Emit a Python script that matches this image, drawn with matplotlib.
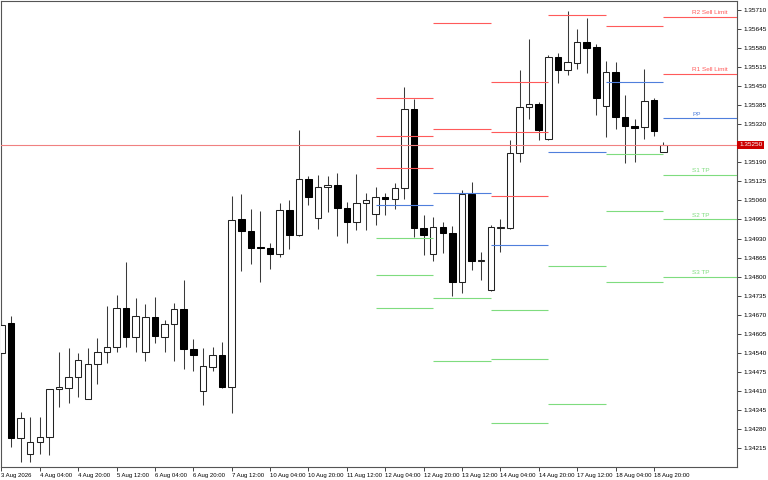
import numpy as np
import matplotlib
matplotlib.use('Agg')
import matplotlib.pyplot as plt
from matplotlib import font_manager

names = {f.name for f in font_manager.fontManager.ttflist}
if 'Liberation Sans Narrow' in names:
    plt.rcParams['font.family'] = ['Liberation Sans Narrow', 'DejaVu Sans']
    fs, fs_x = 5.5, 5.3
else:
    plt.rcParams['font.family'] = ['Liberation Sans', 'DejaVu Sans']
    fs, fs_x = 4.6, 4.3

# H4 bars from 3 Aug 12:00 to 19 Aug 00:00
opens = [1.34539, 1.34640, 1.34247, 1.34193, 1.34236, 1.34253, 1.34415, 1.34420, 1.34456, 1.34382,
         1.34502, 1.34541, 1.34558, 1.34691, 1.34592, 1.34541, 1.34663, 1.34594, 1.34637, 1.34688,
         1.34552, 1.34410, 1.34492, 1.34532, 1.34421, 1.34997, 1.34956, 1.34900, 1.34899, 1.34876,
         1.35027, 1.34943, 1.35132, 1.35000, 1.35105, 1.35112, 1.35033, 1.34985, 1.35051, 1.35013,
         1.35073, 1.35065, 1.35102, 1.35373, 1.34967, 1.34877, 1.34970, 1.34950, 1.34782, 1.35083,
         1.34854, 1.34754, 1.34967, 1.34967, 1.35221, 1.35378, 1.35389, 1.35271, 1.35549, 1.35506,
         1.35529, 1.35602, 1.35584, 1.35384, 1.35498, 1.35346, 1.35315, 1.35310, 1.35403, 1.35225]
highs = [1.34651, 1.34665, 1.34338, 1.34321, 1.34321, 1.34416, 1.34543, 1.34555, 1.34538, 1.34555,
         1.34591, 1.34700, 1.34737, 1.34850, 1.34727, 1.34705, 1.34730, 1.34651, 1.34711, 1.34788,
         1.34587, 1.34555, 1.34560, 1.34575, 1.35075, 1.35082, 1.35032, 1.35025, 1.34914, 1.35050,
         1.35062, 1.35301, 1.35144, 1.35148, 1.35145, 1.35155, 1.35056, 1.35151, 1.35087, 1.35107,
         1.35087, 1.35119, 1.35447, 1.35406, 1.35009, 1.35005, 1.34985, 1.34973, 1.35095, 1.35124,
         1.34884, 1.34975, 1.34996, 1.35267, 1.35506, 1.35612, 1.35397, 1.35557, 1.35565, 1.35709,
         1.35646, 1.35685, 1.35595, 1.35537, 1.35532, 1.35421, 1.35339, 1.35508, 1.35411, 1.35261]
lows = [1.34532, 1.34218, 1.34167, 1.34167, 1.34193, 1.34189, 1.34353, 1.34369, 1.34387, 1.34380,
        1.34432, 1.34503, 1.34541, 1.34560, 1.34543, 1.34511, 1.34574, 1.34541, 1.34512, 1.34484,
        1.34476, 1.34361, 1.34478, 1.34419, 1.34335, 1.34820, 1.34843, 1.34782, 1.34825, 1.34866,
        1.34895, 1.34940, 1.35045, 1.34964, 1.35022, 1.34938, 1.34914, 1.34959, 1.34958, 1.34975,
        1.35010, 1.35031, 1.35064, 1.34936, 1.34873, 1.34853, 1.34879, 1.34734, 1.34745, 1.34821,
        1.34788, 1.34752, 1.34883, 1.34963, 1.35191, 1.35337, 1.35267, 1.35268, 1.35461, 1.35488,
        1.35509, 1.35497, 1.35352, 1.35278, 1.35303, 1.35187, 1.35191, 1.35271, 1.35280, 1.35224]
closes = [1.34634, 1.34247, 1.34316, 1.34236, 1.34253, 1.34415, 1.34421, 1.34456, 1.34514, 1.34500,
          1.34541, 1.34558, 1.34691, 1.34594, 1.34666, 1.34663, 1.34597, 1.34637, 1.34688, 1.34552,
          1.34531, 1.34494, 1.34532, 1.34421, 1.34993, 1.34957, 1.34897, 1.34898, 1.34877, 1.35026,
          1.34942, 1.35132, 1.35072, 1.35105, 1.35112, 1.35035, 1.34985, 1.35050, 1.35062, 1.35073,
          1.35065, 1.35102, 1.35373, 1.34965, 1.34941, 1.34970, 1.34948, 1.34780, 1.35083, 1.34852,
          1.34856, 1.34970, 1.34968, 1.35221, 1.35378, 1.35389, 1.35301, 1.35549, 1.35506, 1.35534,
          1.35602, 1.35582, 1.35411, 1.35498, 1.35346, 1.35316, 1.35308, 1.35401, 1.35297, 1.35250]

x_label_bars = [0, 4, 8, 12, 16, 20, 24, 28, 32, 36, 40, 44, 48, 52, 56, 60, 64, 68]
x_labels = ['3 Aug 2026', '4 Aug 04:00', '4 Aug 20:00', '5 Aug 12:00', '6 Aug 04:00',
            '6 Aug 20:00', '7 Aug 12:00', '10 Aug 04:00', '10 Aug 20:00', '11 Aug 12:00',
            '12 Aug 04:00', '12 Aug 20:00', '13 Aug 12:00', '14 Aug 04:00', '14 Aug 20:00',
            '17 Aug 12:00', '18 Aug 04:00', '18 Aug 20:00']

y_ticks = [1.35710, 1.35645, 1.35580, 1.35515, 1.35450, 1.35385, 1.35320, 1.35190,
           1.35125, 1.35060, 1.34995, 1.34930, 1.34865, 1.34800, 1.34735, 1.34670,
           1.34605, 1.34540, 1.34475, 1.34410, 1.34345, 1.34280, 1.34215]

# daily pivot levels (bar index where each day starts)
day_start = [39, 45, 51, 57, 63, 69]
nan = np.nan
r3 = [1.35409, nan, 1.35465, nan, nan, nan]
r2 = [1.35281, 1.35666, 1.35293, nan, nan, 1.35688]
r1 = [1.35170, 1.35303, 1.35076, 1.35693, 1.35657, 1.35492]
pp = [1.35044, 1.35087, 1.34907, 1.35225, 1.35465, 1.35341]
s1 = [1.34931, 1.34726, 1.34687, 1.34835, 1.35220, 1.35147]
s2 = [1.34804, 1.34510, 1.34518, 1.34365, 1.35025, 1.34996]
s3 = [1.34693, nan, 1.34298, nan, 1.34780, 1.34800]

current_price = 1.35250

RED = '#ff5a5a'
BLUE = '#4f7fdc'
GREEN = '#7fdc7f'

fig = plt.figure(figsize=(7.68, 4.80), dpi=100)
ax = fig.add_axes([1 / 768, 13 / 480, 736 / 768, 466 / 480])

x = np.arange(len(opens))
o = np.array(opens)
c = np.array(closes)
ax.vlines(x, lows, highs, color='#3a3a3a', linewidth=0.75, zorder=2)
up = c >= o
ax.bar(x[up], np.maximum(c[up] - o[up], 0.000005), bottom=o[up], width=0.68,
       facecolor='white', edgecolor='#222222', linewidth=0.75, zorder=3)
ax.bar(x[~up], o[~up] - c[~up], bottom=c[~up], width=0.68,
       facecolor='black', edgecolor='black', linewidth=0.75, zorder=3)

xmax = 76.66
day_end = day_start[1:] + [xmax]
for levels, col in [(r3, RED), (r2, RED), (r1, RED), (pp, BLUE),
                    (s1, GREEN), (s2, GREEN), (s3, GREEN)]:
    ax.hlines(levels, day_start, day_end, color=col, linewidth=0.8, zorder=4)

# labels for today's levels
tags = [('R2 Sell Limit', r2[-1], RED), ('R1 Sell Limit', r1[-1], RED), ('PP', pp[-1], BLUE),
        ('S1 TP', s1[-1], GREEN), ('S2 TP', s2[-1], GREEN), ('S3 TP', s3[-1], GREEN)]
for txt, lv, col in tags:
    ax.annotate(txt, (72.0, lv), xytext=(0, 1.2), textcoords='offset points',
                ha='left', va='bottom', fontsize=fs, color=col, zorder=5)

ax.axhline(current_price, color='#f08080', linewidth=0.8, zorder=4)
ax.annotate('1.35250', (1, current_price), xycoords=('axes fraction', 'data'),
            xytext=(1.5, 0), textcoords='offset points', ha='left', va='center',
            fontsize=fs, color='white', annotation_clip=False,
            bbox=dict(boxstyle='square,pad=0.25', fc='#cc0000', ec='none'))

ax.set_xlim(-0.042, xmax)
ax.set_ylim(1.341490, 1.357418)

ax.yaxis.tick_right()
ax.set_yticks(y_ticks)
ax.set_yticklabels(['%.5f' % v for v in y_ticks])
ax.set_xticks(x_label_bars)
ax.set_xticklabels(x_labels, ha='left')
ax.tick_params(axis='both', length=3, width=0.7, color='#444444',
               labelcolor='black', pad=1.5)
ax.tick_params(axis='y', labelsize=fs)
ax.tick_params(axis='x', labelsize=fs_x, pad=1.0)

for s in ax.spines.values():
    s.set_color('#555555')
    s.set_linewidth(0.8)

fig.savefig('out.png', dpi=100)
